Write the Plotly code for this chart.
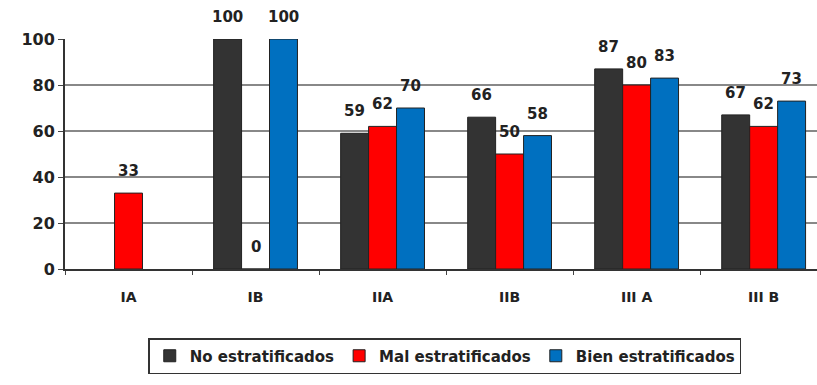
import plotly.graph_objects as go

categories = ["IA", "IB", "IIA", "IIB", "III A", "III B"]
series_names = ["No estratificados", "Mal estratificados", "Bien estratificados"]
no_estrat = [None, 100, 59, 66, 87, 67]
mal_estrat = [33, 0, 62, 50, 80, 62]
bien_estrat = [None, 100, 70, 58, 83, 73]
colors = ["#333333", "#FF0000", "#0070C0"]
y_ticks = [0, 20, 40, 60, 80, 100]

series = [no_estrat, mal_estrat, bien_estrat]
bargap = 0.34
bw = (1 - bargap) / 3
FONT = "DejaVu Sans"

fig = go.Figure()
for name, vals, col in zip(series_names, series, colors):
    fig.add_trace(go.Bar(
        x=categories, y=vals, name=name,
        marker=dict(color=col, line=dict(color="#222222", width=1)),
    ))

annotations = []
for si, vals in enumerate(series):
    for ci, v in enumerate(vals):
        if v is None:
            continue
        annotations.append(dict(
            x=ci + (si - 1) * bw, y=v, xref="x", yref="y",
            text=str(v), showarrow=False, yanchor="bottom", yshift=11,
            font=dict(family=FONT, size=15, color="#222222", weight="bold"),
        ))

fig.update_layout(
    width=817, height=385,
    margin=dict(l=65, r=0, t=39, b=116),
    paper_bgcolor="white", plot_bgcolor="white",
    barmode="group", bargap=bargap, bargroupgap=0,
    showlegend=True,
    legend=dict(
        orientation="h", x=0.505, xanchor="center", y=-0.30, yanchor="top",
        bordercolor="#333333", borderwidth=1.5,
        font=dict(family=FONT, size=15, color="#222222", weight="bold"),
        itemwidth=30,
    ),
    annotations=annotations,
    font=dict(family=FONT, color="#222222"),
)
fig.update_xaxes(
    range=[-0.5, 5.42], type="category",
    showline=True, linecolor="#333333", linewidth=2,
    ticks="outside", tickson="boundaries", ticklen=4, tickcolor="#444444",
    ticklabelstandoff=14,
    tickfont=dict(family=FONT, size=14, color="#222222", weight="bold"),
    showgrid=False,
)
fig.update_yaxes(
    range=[0, 100], tickvals=y_ticks,
    showline=True, linecolor="#333333", linewidth=2,
    ticks="outside", ticklen=5, tickcolor="#444444",
    showgrid=True, gridcolor="#888888", gridwidth=1.5,
    tickfont=dict(family=FONT, size=16, color="#222222", weight="bold"),
    zeroline=False,
)

fig.write_html("out.html")
